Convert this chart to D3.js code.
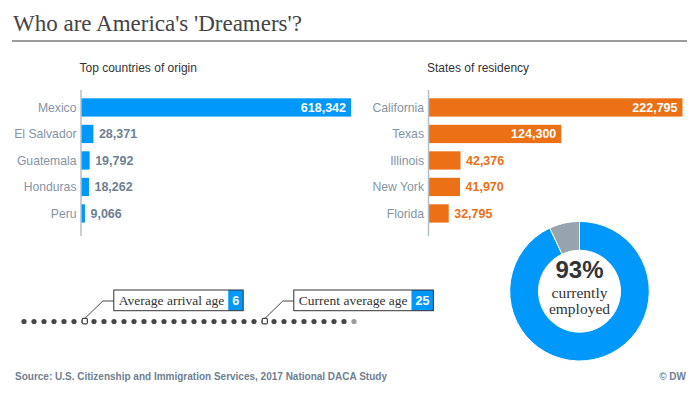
<!DOCTYPE html>
<html><head><meta charset="utf-8">
<script src="https://cdn.jsdelivr.net/npm/d3@7"></script>
<style>
html,body{margin:0;padding:0;background:#fff;}
svg{display:block;}
</style></head>
<body>
<svg id="chart" width="700" height="394"></svg>
<script>
// ---- data ----
const titleText = "Who are America's 'Dreamers'?";
const countries = ["Mexico", "El Salvador", "Guatemala", "Honduras", "Peru"];
const countryValues = [618342, 28371, 19792, 18262, 9066];
const states = ["California", "Texas", "Illinois", "New York", "Florida"];
const stateValues = [222795, 124300, 42376, 41970, 32795];
const stateDomainMin = 16370;
const employedLabels = ["employed", "not employed"];
const employedShare = [93, 7];
const ageLabels = ["Average arrival age", "Current average age"];
const ageValues = [6, 25];
const ageDotIndex = [6, 24];
const dotCount = 34;
const sourceText = "Source: U.S. Citizenship and Immigration Services, 2017 National DACA Study";

// ---- style ----
const BLUE = "#0099fb", ORANGE = "#eb7016", GREY = "#98a4ad";
const SANS = "'Liberation Sans', Arial, sans-serif";
const SERIF = "'Liberation Serif', 'Times New Roman', serif";
const fmt = d3.format(",");

const svg = d3.select("#chart");

// title
svg.append("text").attr("x", 13).attr("y", 31)
  .attr("font-family", SERIF).attr("font-size", 23).attr("fill", "#444")
  .text(titleText);
svg.append("line").attr("x1", 12).attr("x2", 687).attr("y1", 41).attr("y2", 41)
  .attr("stroke", "#9c9c9c").attr("stroke-width", 2);

// ---- bar panels ----
function barPanel(opts) {
  const g = svg.append("g");
  const y = d3.scaleBand().domain(opts.cats).range([94.2, 226.7])
    .paddingInner(0.31).paddingOuter(0.155);
  const x = d3.scaleLinear().domain([opts.dmin, d3.max(opts.vals)]).range([opts.x0, opts.x1]);
  g.append("text").attr("x", opts.x0 - 1.5).attr("y", 72)
    .attr("font-family", SANS).attr("font-size", 12).attr("fill", "#333")
    .text(opts.subtitle);
  const data = opts.cats.map((c, i) => ({c, v: opts.vals[i]}));
  g.selectAll("rect.bar").data(data).join("rect").attr("class", "bar")
    .attr("x", opts.x0).attr("y", d => y(d.c))
    .attr("width", d => x(d.v) - opts.x0).attr("height", y.bandwidth())
    .attr("fill", opts.color);
  // axis
  g.append("line").attr("x1", opts.x0).attr("x2", opts.x0).attr("y1", 90).attr("y2", 236)
    .attr("stroke", "#b4bec7").attr("stroke-width", 1.5);
  g.selectAll("text.cat").data(data).join("text").attr("class", "cat")
    .attr("x", opts.x0 - 4.5).attr("y", d => y(d.c) + y.bandwidth() / 2)
    .attr("dy", "0.35em").attr("text-anchor", "end")
    .attr("font-family", SANS).attr("font-size", 12.2).attr("fill", "#8494a4")
    .text(d => d.c);
  g.selectAll("text.val").data(data).join("text").attr("class", "val")
    .each(function(d) {
      const w = x(d.v) - opts.x0;
      const inside = w > 70;
      d3.select(this)
        .attr("x", inside ? x(d.v) - 5 : x(d.v) + 5.5)
        .attr("text-anchor", inside ? "end" : "start")
        .attr("fill", inside ? "#fff" : opts.labelColor);
    })
    .attr("y", d => y(d.c) + y.bandwidth() / 2).attr("dy", "0.36em")
    .attr("font-family", SANS).attr("font-weight", "bold").attr("font-size", 12.5)
    .text(d => fmt(d.v));
}
barPanel({cats: countries, vals: countryValues, dmin: 0, x0: 81, x1: 351,
  color: BLUE, labelColor: "#6f8091", subtitle: "Top countries of origin"});
barPanel({cats: states, vals: stateValues, dmin: stateDomainMin, x0: 428.5, x1: 682.5,
  color: ORANGE, labelColor: ORANGE, subtitle: "States of residency"});

// ---- donut ----
const cx = 579.5, cy = 291.2;
const pie = d3.pie().sort(null).startAngle(0).endAngle(2 * Math.PI);
const arcs = pie(employedShare);
const arc = d3.arc().innerRadius(41).outerRadius(69.8);
const dg = svg.append("g").attr("transform", `translate(${cx},${cy})`);
dg.selectAll("path").data(arcs).join("path")
  .attr("d", arc).attr("fill", (d, i) => i === 0 ? BLUE : GREY)
  .attr("stroke", "#fff").attr("stroke-width", 1);
dg.append("text").attr("y", -13).attr("text-anchor", "middle")
  .attr("font-family", SANS).attr("font-weight", "bold").attr("font-size", 24).attr("fill", "#333")
  .text(employedShare[0] + "%");
dg.append("text").attr("y", 6.5).attr("text-anchor", "middle")
  .attr("font-family", SERIF).attr("font-size", 15.5).attr("fill", "#333")
  .text("currently");
dg.append("text").attr("y", 23).attr("text-anchor", "middle")
  .attr("font-family", SERIF).attr("font-size", 15.5).attr("fill", "#333")
  .text(employedLabels[0]);

// ---- age dots ----
const dotY = 321.5;
const xd = d3.scaleLinear().domain([0, dotCount - 1]).range([24, 354]);
const dots = d3.range(dotCount);
const ag = svg.append("g");
ag.selectAll("circle").data(dots).join("circle")
  .attr("cx", d => xd(d)).attr("cy", dotY).attr("r", 2.6)
  .attr("fill", d => d === dotCount - 1 ? "#9a9a9a" : "#474747");

const markers = ageLabels.map((l, i) => ({label: l, value: ageValues[i], idx: ageDotIndex[i]}));
markers.forEach(m => {
  const mx = xd(m.idx) + 0.8;
  const lineY = 301;
  const bx = mx + 29, by = 290, bh = 20.7;
  ag.append("path")
    .attr("d", `M${mx},${dotY - 3} L${mx + 18},${lineY} L${bx},${lineY}`)
    .attr("fill", "none").attr("stroke", "#444").attr("stroke-width", 1);
  ag.append("rect").attr("x", mx - 2.6).attr("y", dotY - 3.2).attr("width", 5.2).attr("height", 5.6)
    .attr("rx", 1.2).attr("fill", "#fff").attr("stroke", "#444").attr("stroke-width", 1.2);
  const t = ag.append("text").attr("x", bx + 5).attr("y", by + bh / 2).attr("dy", "0.33em")
    .attr("font-family", SERIF).attr("font-size", 13.5).attr("fill", "#333").text(m.label);
  const tw = t.node().getComputedTextLength();
  const vt = ag.append("text").attr("font-family", SANS).attr("font-weight", "bold")
    .attr("font-size", 12.5).attr("fill", "#fff").text(m.value);
  const vw = vt.node().getComputedTextLength();
  const vbx = bx + 5 + tw + 4, vbw = vw + 8;
  ag.insert("rect", "text").attr("x", vbx).attr("y", by).attr("width", vbw).attr("height", bh)
    .attr("fill", BLUE);
  ag.insert("rect", "text").attr("x", bx).attr("y", by).attr("width", vbx + vbw - bx).attr("height", bh)
    .attr("fill", "none").attr("stroke", "#333").attr("stroke-width", 1);
  vt.attr("x", vbx + vbw / 2).attr("y", by + bh / 2).attr("dy", "0.36em").attr("text-anchor", "middle");
});

// ---- footer ----
svg.append("text").attr("x", 15).attr("y", 380)
  .attr("font-family", SANS).attr("font-weight", "bold").attr("font-size", 10).attr("fill", "#6f8091")
  .text(sourceText);
svg.append("text").attr("x", 686).attr("y", 380).attr("text-anchor", "end")
  .attr("font-family", SANS).attr("font-weight", "bold").attr("font-size", 10).attr("fill", "#6f8091")
  .text("© DW");
</script>
</body></html>
